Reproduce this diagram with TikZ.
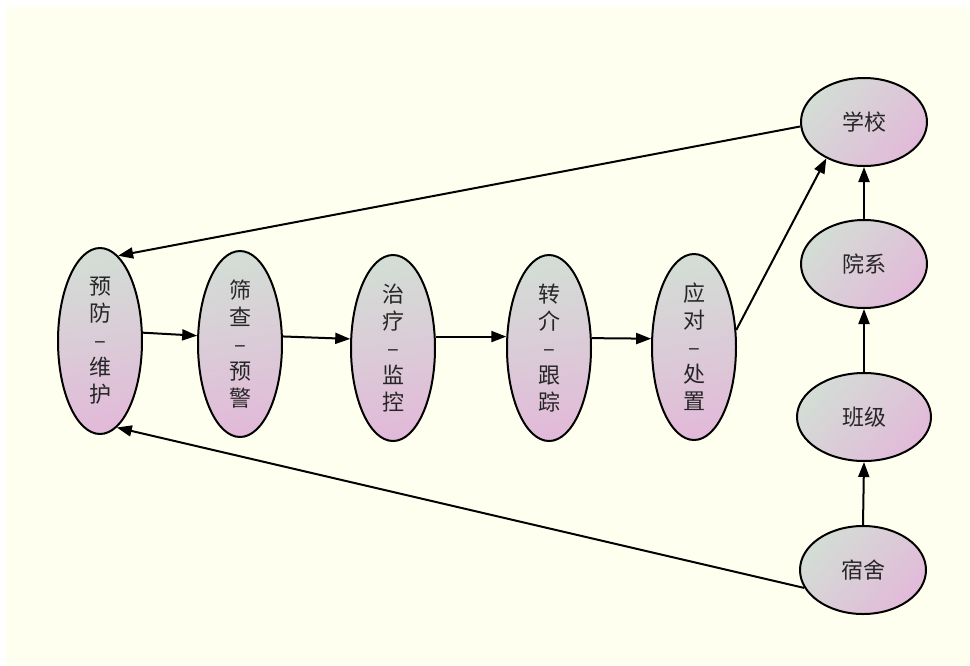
\documentclass[tikz,border=0pt]{standalone}
\usepackage{fontspec}
\newfontfamily\cjk{Noto Sans CJK SC}
\usetikzlibrary{shapes.geometric,arrows.meta}
\definecolor{bgc}{HTML}{FFFFF0}
\definecolor{gg}{HTML}{D3DDD5}
\definecolor{pk}{HTML}{E2BAD9}
\begin{document}
\begin{tikzpicture}[x=1pt,y=-1pt,
  txt/.style={font=\cjk\fontsize{22}{27}\selectfont, text=black!85},
  base/.style={ellipse, draw=black, line width=2pt, inner sep=0pt},
  tall/.style={base, minimum width=84pt, minimum height=186pt,
    top color=gg, bottom color=pk, shading angle=10,
    label={[txt, align=center]center:{#1}}},
  wide/.style={base, minimum width=126pt, minimum height=88pt,
    top color=gg, bottom color=pk, shading angle=50,
    label={[txt]center:{#1}}},
  arr/.style={line width=2pt, -{Triangle[length=15pt,width=11pt]}}]
\fill[white] (0,0) rectangle (970,665);
\fill[bgc] (6,7) rectangle (970,665);
\useasboundingbox (0,0) rectangle (970,665);

\node[tall={预\\防\\–\\维\\护}] (yf) at (100,341) {};
\node[tall={筛\\查\\–\\预\\警}] (sc) at (240,344) {};
\node[tall={治\\疗\\–\\监\\控}] (zl) at (393,348) {};
\node[tall={转\\介\\–\\跟\\踪}] (zj) at (549,348) {};
\node[tall={应\\对\\–\\处\\置}] (yd) at (694,347) {};

\node[wide={学校}] (xx) at (864,122) {};
\node[wide={院系}] (yx) at (864,264) {};
\node[wide={班级}, minimum width=134pt] (bj) at (864,417) {};
\node[wide={宿舍}] (ss) at (863,570) {};

\draw[arr] (yf.11) -- (sc.169);
\draw[arr] (sc.10) -- (zl.168);
\draw[arr] (zl.15) -- (zj.165);
\draw[arr] (zj.13) -- (yd.169);
\draw[arr] (yd.22) -- (xx.224);
\draw[arr] (xx.184) -- (yf.78);
\draw[arr] (ss.197) -- (yf.281);
\draw[arr] (ss.north) -- (bj.south);
\draw[arr] (bj.north) -- (yx.south);
\draw[arr] (yx.north) -- (xx.south);
\end{tikzpicture}
\end{document}
